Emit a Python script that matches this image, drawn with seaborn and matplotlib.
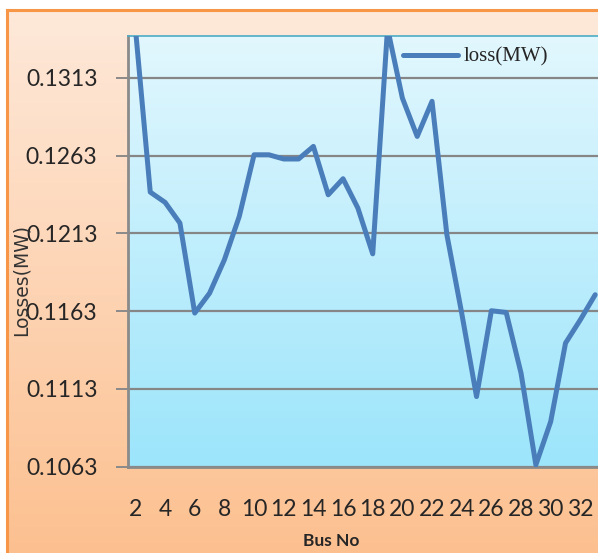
import numpy as np
import pandas as pd
import matplotlib
matplotlib.use("Agg")
import matplotlib.pyplot as plt
import seaborn as sns

# Loss values (bus 2 .. 33)
bus_no = list(range(2, 34))
loss_mw = [0.1345, 0.12396, 0.12330, 0.12197, 0.11618, 0.11746, 0.11961, 0.12239,
           0.12636, 0.12636, 0.12609, 0.12609, 0.12690, 0.12379, 0.12482, 0.12293,
           0.11999, 0.1345, 0.13001, 0.12754, 0.12980, 0.12122, 0.11618, 0.11081,
           0.11633, 0.11622, 0.11232, 0.10642, 0.10920, 0.11425, 0.11575, 0.11736]
y_ticks = [0.1063, 0.1113, 0.1163, 0.1213, 0.1263, 0.1313]
x_ticks = list(range(2, 33, 2))

data = pd.DataFrame({"bus": bus_no, "loss": loss_mw})

sns.set_style("white")
W, H = 598, 553
fig = plt.figure(figsize=(W / 100, H / 100), dpi=100)
fig.patch.set_facecolor("white")

# outer chart area: peach gradient with orange border on left/top
bg = fig.add_axes([7 / W, -0.05, 1.0, 1 - 9.5 / H + 0.05])
bg_grad = np.linspace(0, 1, 256).reshape(-1, 1)
top_c = np.array([254, 233, 218]) / 255
bot_c = np.array([252, 190, 140]) / 255
bg_img = top_c * (1 - bg_grad[..., None]) + bot_c * bg_grad[..., None]
bg.imshow(bg_img, extent=[0, 1, 0, 1], aspect="auto")
bg.set_xlim(0, 1)
bg.set_ylim(0, 1)
bg.set_xticks([])
bg.set_yticks([])
for side in ["right", "bottom"]:
    bg.spines[side].set_visible(False)
for side in ["left", "top"]:
    bg.spines[side].set_color("#f79646")
    bg.spines[side].set_linewidth(2.2)

# plot area
left, right, top, bottom = 128, 602.6, 36, 466.7
ax = fig.add_axes([left / W, 1 - bottom / H, (right - left) / W, (bottom - top) / H])
grad = np.linspace(0, 1, 256).reshape(-1, 1)
pa_top = np.array([226, 247, 254]) / 255
pa_bot = np.array([156, 229, 251]) / 255
pa_img = pa_top * (1 - grad[..., None]) + pa_bot * grad[..., None]
ax.imshow(pa_img, extent=[0, 1, 0, 1], transform=ax.transAxes, aspect="auto", zorder=0)

sns.lineplot(data=data, x="bus", y="loss", ax=ax, color="#4a7ebb", linewidth=3.6,
             label="loss(MW)", zorder=3)

ax.set_xlim(1.5, 33.5)
ax.set_ylim(0.1063, 0.1340)
ax.set_yticks(y_ticks)
ax.set_yticklabels([f"{v:.4f}" for v in y_ticks])
ax.set_xticks(x_ticks)
ax.set_xticks(np.arange(1.5, 34, 1.0), minor=True)
ax.set_axisbelow(True)
ax.grid(axis="y", color="#868686", linewidth=1.6)
ax.grid(axis="x", visible=False)

ax.tick_params(axis="x", which="major", length=0, pad=23, labelsize=16.5)
ax.tick_params(axis="x", which="minor", length=5, width=1.4, color="#8a8a8a", direction="out")
ax.tick_params(axis="y", which="major", length=9, width=1.4, color="#8a8a8a", pad=13, labelsize=16.5)
ax.tick_params(left=True, bottom=True)
for lab in ax.get_xticklabels() + ax.get_yticklabels():
    lab.set_family("Lato")

for side in ["left", "bottom"]:
    ax.spines[side].set_color("#8a8a8a")
    ax.spines[side].set_linewidth(2.0)
ax.spines["top"].set_color("#4bacc6")
ax.spines["top"].set_linewidth(1.2)
ax.spines["right"].set_visible(False)
ax.set_xlabel("")
ax.set_ylabel("")

leg = ax.legend(loc="center left", bbox_to_anchor=(395 / W, 1 - 57 / H),
                bbox_transform=fig.transFigure, frameon=False, handlelength=2.6,
                handletextpad=0.3, borderaxespad=0,
                prop={"family": "Liberation Serif", "size": 15})
for line in leg.get_lines():
    line.set_linewidth(3.6)

fig.text(21 / W, 1 - 280 / H, "Losses(MW)", rotation=90, ha="center", va="center",
         fontsize=13.5, family="DejaVu Sans", color="#333333")
fig.text(331 / W, 1 - 541 / H, "Bus No", ha="center", va="center",
         fontsize=12.5, family="Lato", fontweight="bold")

fig.savefig("out.png", dpi=100)
